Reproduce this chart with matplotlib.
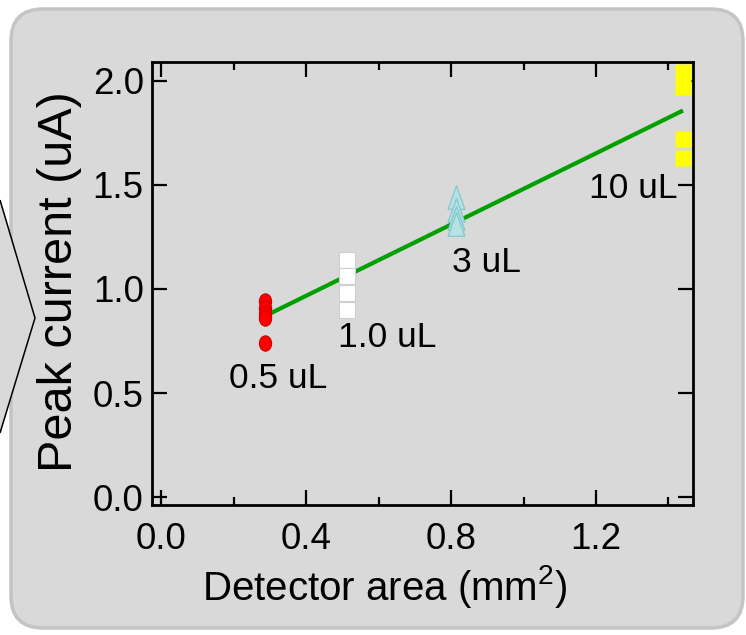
import matplotlib
matplotlib.use('Agg')
import matplotlib.pyplot as plt
import numpy as np
from matplotlib.patches import FancyBboxPatch, Polygon
from matplotlib.transforms import IdentityTransform
from matplotlib.path import Path

plt.rcParams['font.family'] = ['Liberation Sans', 'DejaVu Sans']
plt.rcParams['mathtext.fontset'] = 'custom'
plt.rcParams['mathtext.rm'] = 'Liberation Sans'
plt.rcParams['mathtext.it'] = 'Liberation Sans:italic'

# ---- data ----
x_05uL = [0.287, 0.287, 0.287, 0.287, 0.287]
y_05uL = [0.94, 0.91, 0.88, 0.86, 0.74]
x_1uL = [0.512, 0.512, 0.512, 0.512]
y_1uL = [1.14, 1.06, 0.98, 0.90]
x_3uL = [0.813, 0.813, 0.813, 0.813]
y_3uL = [1.44, 1.38, 1.34, 1.31]
x_10uL = [1.44, 1.44, 1.44, 1.44]
y_10uL = [2.04, 1.97, 1.72, 1.63]
fit_x = [0.287, 1.44]
fit_y = [0.87, 1.857]
group_labels = ['0.5 uL', '1.0 uL', '3 uL', '10 uL']
label_x = [0.323, 0.623, 0.899, 1.302]
label_y = [0.572, 0.769, 1.125, 1.48]
x_major = [0.0, 0.4, 0.8, 1.2]
x_minor = [0.2, 0.6, 1.0, 1.4]
y_major = [0.0, 0.5, 1.0, 1.5, 2.0]
x_ticklabels = ['0.0', '0.4', '0.8', '1.2']
y_ticklabels = ['0.0', '0.5', '1.0', '1.5', '2.0']
xlabel = 'Detector area (mm$^{\\mathrm{2}}$)'
ylabel = 'Peak current (uA)'

W, H = 746, 635
fig = plt.figure(figsize=(W / 100, H / 100), dpi=100, facecolor='white')

# background rounded panel (pixel coords, origin bottom-left)
box = FancyBboxPatch((11, H - 628), 732, 619,
                     boxstyle='round,pad=0,rounding_size=32',
                     transform=IdentityTransform(),
                     facecolor='#d9d9d9', edgecolor='#c4c4c4', linewidth=2.5,
                     zorder=0)
fig.add_artist(box)
chev = Polygon([(0, H - 200), (35, H - 318), (0, H - 433)], closed=False,
               transform=IdentityTransform(), facecolor='#d9d9d9',
               edgecolor='black', linewidth=1.1, zorder=1)
fig.add_artist(chev)

ax = fig.add_axes([152 / W, 1 - 505 / H, (693 - 152) / W, (505 - 62) / H])
ax.set_facecolor('none')
ax.set_xlim(-0.025, 1.4676)
ax.set_ylim(-0.038, 2.09)

# fit line
ax.plot(fit_x, fit_y, color='#00a000', linewidth=3, zorder=2,
        solid_capstyle='butt')

# custom markers
circ = Path.unit_circle()
ell = Path(circ.vertices * np.array([0.8, 1.0]), circ.codes)
tri = Path([(0, 1), (-0.71, -1), (0.71, -1), (0, 1)],
           [Path.MOVETO, Path.LINETO, Path.LINETO, Path.CLOSEPOLY])

ax.plot(x_05uL, y_05uL, linestyle='none', marker=ell, markersize=11,
        markerfacecolor='#ff0000', markeredgecolor='#cc0000',
        markeredgewidth=0.8, zorder=3)
ax.plot(x_1uL, y_1uL, linestyle='none', marker='s', markersize=11,
        markerfacecolor='white', markeredgecolor='#cfcfcf',
        markeredgewidth=0.8, zorder=3)
ax.plot(x_3uL, y_3uL, linestyle='none', marker=tri, markersize=17,
        markerfacecolor='#b6e1e5', markeredgecolor='#86c7cf',
        markeredgewidth=0.9, zorder=3)
ax.plot(x_10uL, y_10uL, linestyle='none', marker='s', markersize=11,
        markerfacecolor='#ffff00', markeredgecolor='none', zorder=3,
        clip_on=False)

for t, lx, ly in zip(group_labels, label_x, label_y):
    ax.text(lx, ly, t, fontsize=25.5, ha='center', va='center', color='black')

for s in ax.spines.values():
    s.set_linewidth(2.0)
    s.set_color('black')

ax.set_xticks(x_major)
ax.set_xticks(x_minor, minor=True)
ax.set_yticks(y_major)
ax.set_xticklabels(x_ticklabels)
ax.set_yticklabels(y_ticklabels)
ax.tick_params(which='both', direction='in', top=True, right=True,
               width=1.6, color='black')
ax.tick_params(which='major', length=11)
ax.tick_params(which='minor', length=6)
ax.tick_params(axis='x', which='major', labelsize=26.5, pad=12)
ax.tick_params(axis='y', which='major', labelsize=26.5, pad=6)

fig.text(385 / W, 1 - 586 / H, xlabel, fontsize=29, ha='center', va='center')
fig.text(60 / W, 1 - 282 / H, ylabel, fontsize=35, rotation=90,
         ha='center', va='center')

fig.savefig('out.png', dpi=100, facecolor='white')
